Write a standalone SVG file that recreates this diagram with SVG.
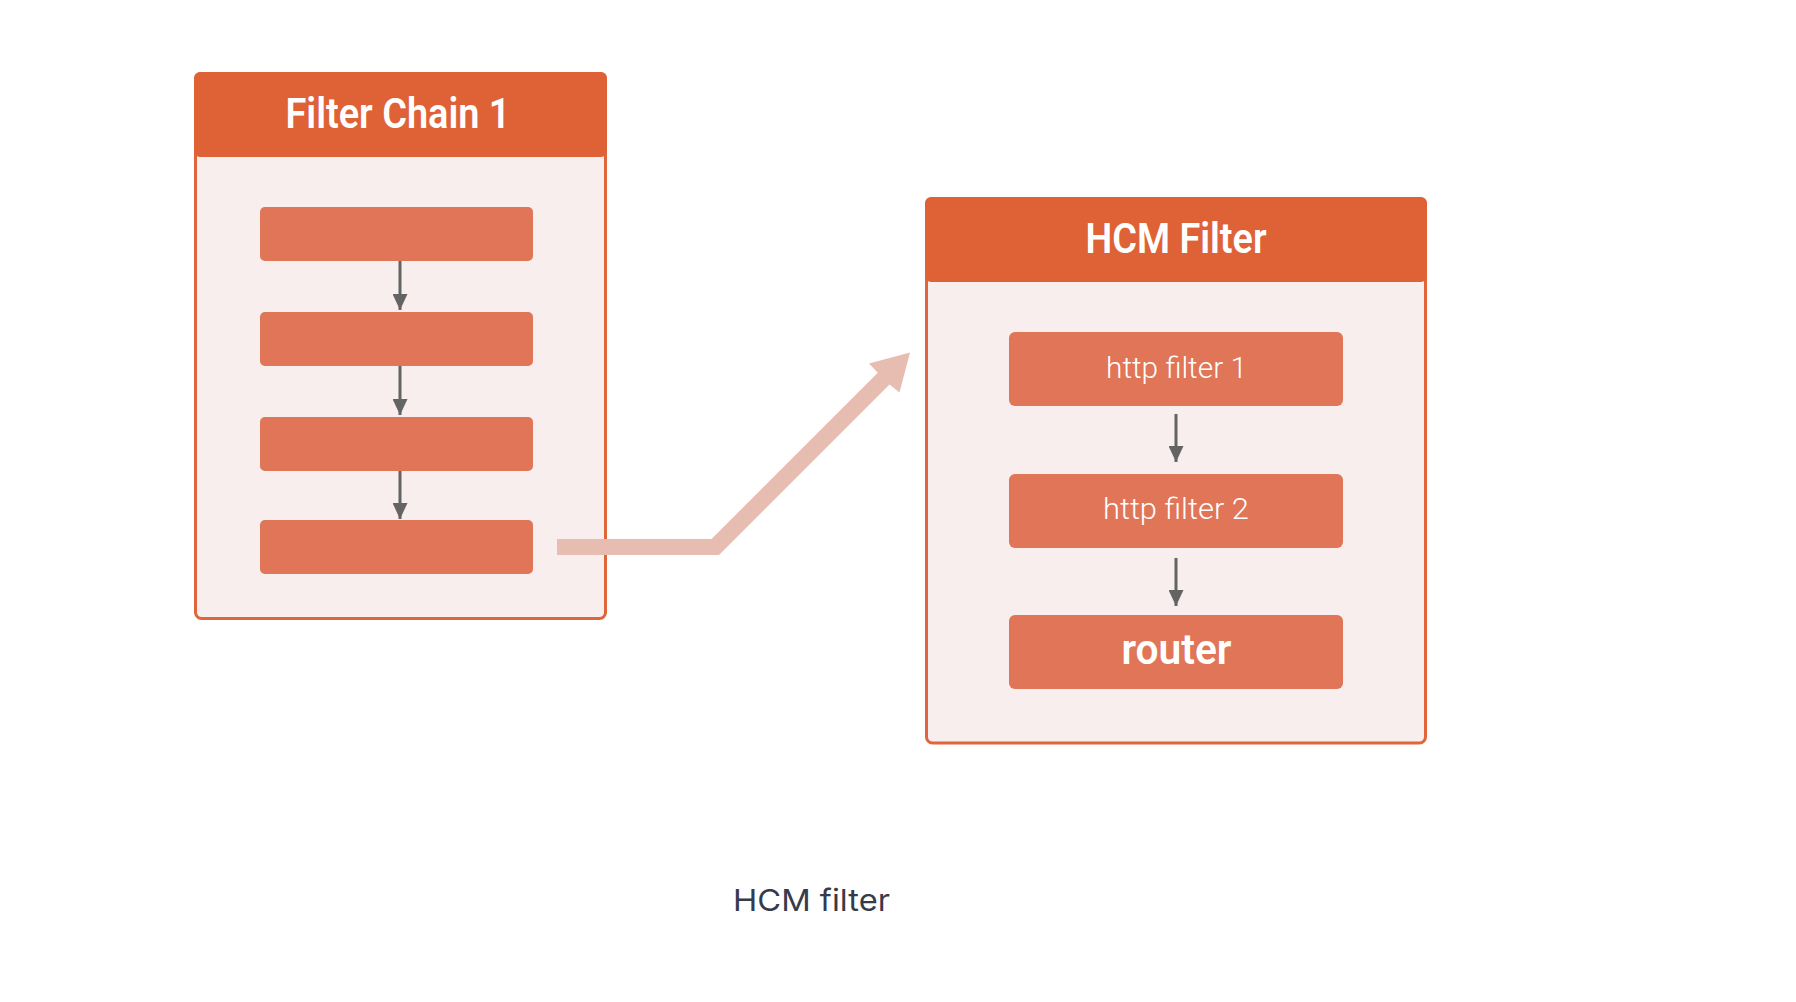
<svg xmlns="http://www.w3.org/2000/svg" width="1796" height="1002" viewBox="0 0 1796 1002">
  <defs>
    <marker id="ah" viewBox="0 0 16 15" markerWidth="16" markerHeight="15" refX="16" refY="7.5" orient="auto" markerUnits="userSpaceOnUse">
      <path d="M0,0 L16,7.5 L0,15 Z" fill="#646464"/>
    </marker>
    <style>
      .container { fill: #f7eeed; stroke: #e0653a; stroke-width: 3; }
      .header { fill: #df6236; }
      .box { fill: #e07557; }
      .title { font-family: "Roboto", "Liberation Sans", sans-serif; font-weight: 600; font-size: 42px; fill: #ffffff; text-anchor: middle; }
      .label { font-family: "Roboto", "Liberation Sans", sans-serif; font-weight: 300; font-size: 30px; fill: #ffffff; text-anchor: middle; }
      .bold { font-family: "Roboto", "Liberation Sans", sans-serif; font-weight: 600; font-size: 43px; fill: #ffffff; text-anchor: middle; }
      .flow { stroke: #646464; stroke-width: 3; fill: none; }
      .caption { font-family: "Inter", "Liberation Sans", sans-serif; font-weight: 400; font-size: 30px; fill: #363b4c; }
    </style>
  </defs>
  <rect width="1796" height="1002" fill="#ffffff"/>

  <g id="filter-chain-1">
    <rect class="container" x="195.5" y="73.5" width="410" height="545" rx="6"/>
    <rect class="header" x="194" y="72" width="413" height="85" rx="6"/>
    <text class="title" x="398" y="128" textLength="225" lengthAdjust="spacingAndGlyphs">Filter Chain 1</text>
  </g>
  <g id="fc-box-1"><rect class="box" x="260" y="207" width="273" height="54" rx="5"/></g>
  <g id="fc-box-2"><rect class="box" x="260" y="312" width="273" height="54" rx="5"/></g>
  <g id="fc-box-3"><rect class="box" x="260" y="417" width="273" height="54" rx="5"/></g>
  <g id="fc-box-4"><rect class="box" x="260" y="520" width="273" height="54" rx="5"/></g>

  <g id="hcm-filter">
    <rect class="container" x="926.5" y="198.5" width="499" height="544.5" rx="6"/>
    <rect class="header" x="925" y="197" width="502" height="85" rx="6"/>
    <text class="title" x="1176" y="253" textLength="181" lengthAdjust="spacingAndGlyphs">HCM Filter</text>
  </g>
  <g id="http-filter-1">
    <rect class="box" x="1009" y="332" width="334" height="74" rx="6"/>
    <text class="label" x="1176.5" y="378" textLength="141" lengthAdjust="spacingAndGlyphs">http filter 1</text>
  </g>
  <g id="http-filter-2">
    <rect class="box" x="1009" y="474" width="334" height="74" rx="6"/>
    <text class="label" x="1176" y="519" textLength="146" lengthAdjust="spacingAndGlyphs">http filter 2</text>
  </g>
  <g id="router">
    <rect class="box" x="1009" y="615" width="334" height="74" rx="6"/>
    <text class="bold" x="1176.5" y="664" textLength="110" lengthAdjust="spacingAndGlyphs">router</text>
  </g>

  <g id="connectors">
    <line class="flow" x1="400" y1="261" x2="400" y2="310" marker-end="url(#ah)"/>
    <line class="flow" x1="400" y1="366" x2="400" y2="415" marker-end="url(#ah)"/>
    <line class="flow" x1="400" y1="471" x2="400" y2="519" marker-end="url(#ah)"/>
    <line class="flow" x1="1176" y1="414" x2="1176" y2="462" marker-end="url(#ah)"/>
    <line class="flow" x1="1176" y1="558" x2="1176" y2="606" marker-end="url(#ah)"/>
    <polygon fill="#e8bdb1" points="557,539 711.5,539 877.8,372.8 869,363.5 910,352.5 899.5,392.5 889.5,384.5 719,555 557,555"/>
  </g>

  <text class="caption" x="733" y="910.5" textLength="157" lengthAdjust="spacingAndGlyphs">HCM filter</text>
</svg>
